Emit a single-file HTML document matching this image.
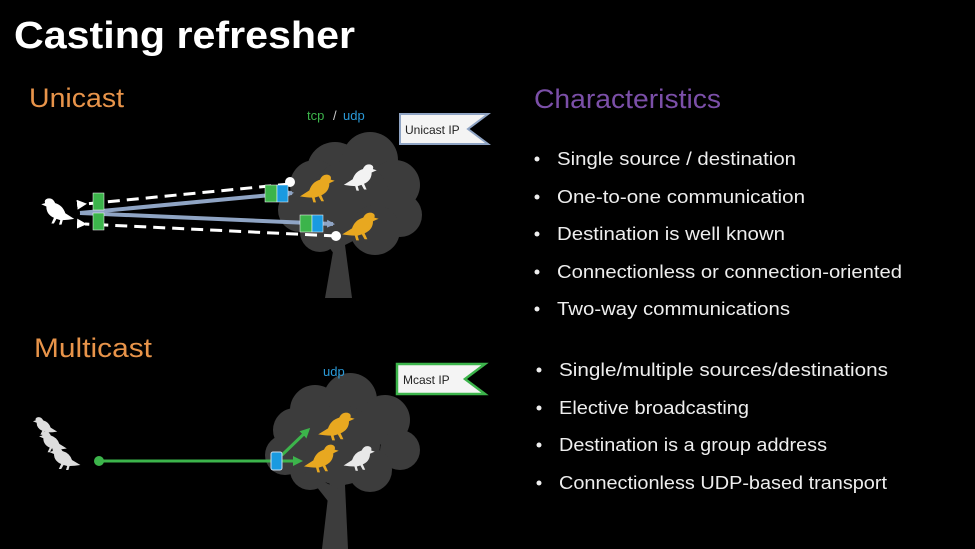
<!DOCTYPE html>
<html><head><meta charset="utf-8"><style>html,body{margin:0;padding:0;background:#000;}svg{display:block}</style></head>
<body>
<svg width="975" height="549" viewBox="0 0 975 549" xmlns="http://www.w3.org/2000/svg" font-family="Liberation Sans, sans-serif">
<defs>
<symbol id="bird" viewBox="0 0 30 30" preserveAspectRatio="none">
<path d="M3 22 L10 17 Q12 10 18 8 Q20 3 24 4 Q27 5 26 8 L29 9 L25 11 Q25 18 19 21 L21 26 L19 26 L17 22 L14 23 L15 27 L13 27 L12 23 Q8 23 3 22 Z"/>
</symbol>
<marker id="ab" markerWidth="8" markerHeight="8" refX="6" refY="4" orient="auto" markerUnits="userSpaceOnUse"><path d="M0 0 L8 4 L0 8 Z" fill="#8fa4c4"/></marker>
<marker id="aw" markerWidth="10" markerHeight="10" refX="2" refY="5" orient="auto" markerUnits="userSpaceOnUse"><path d="M10 0 L0 5 L10 10 Z" fill="#fff"/></marker>
<marker id="ag" markerWidth="10" markerHeight="10" refX="7" refY="5" orient="auto" markerUnits="userSpaceOnUse"><path d="M0 0 L10 5 L0 10 Z" fill="#3cb44b"/></marker>
</defs>
<rect width="975" height="549" fill="#000"/>
<text x="14" y="48" font-size="38" font-weight="bold" fill="#fff" textLength="341" lengthAdjust="spacingAndGlyphs">Casting refresher</text>
<text x="29" y="107" font-size="27" fill="#e8944a" textLength="95" lengthAdjust="spacingAndGlyphs">Unicast</text>
<text x="34" y="357" font-size="27" fill="#e8944a" textLength="118" lengthAdjust="spacingAndGlyphs">Multicast</text>
<text x="534" y="108" font-size="27" fill="#7b4fa8" textLength="187" lengthAdjust="spacingAndGlyphs">Characteristics</text>

<g font-size="18" fill="#eee">
<g><circle cx="537" cy="159" r="2.5"/><text x="557" y="165" textLength="239" lengthAdjust="spacingAndGlyphs">Single source / destination</text></g>
<g><circle cx="537" cy="197" r="2.5"/><text x="557" y="203" textLength="248" lengthAdjust="spacingAndGlyphs">One-to-one communication</text></g>
<g><circle cx="537" cy="234" r="2.5"/><text x="557" y="240" textLength="228" lengthAdjust="spacingAndGlyphs">Destination is well known</text></g>
<g><circle cx="537" cy="272" r="2.5"/><text x="557" y="278" textLength="345" lengthAdjust="spacingAndGlyphs">Connectionless or connection-oriented</text></g>
<g><circle cx="537" cy="309" r="2.5"/><text x="557" y="315" textLength="233" lengthAdjust="spacingAndGlyphs">Two-way communications</text></g>
<g><circle cx="539" cy="370" r="2.5"/><text x="559" y="376" textLength="329" lengthAdjust="spacingAndGlyphs">Single/multiple sources/destinations</text></g>
<g><circle cx="539" cy="408" r="2.5"/><text x="559" y="414" textLength="190" lengthAdjust="spacingAndGlyphs">Elective broadcasting</text></g>
<g><circle cx="539" cy="445" r="2.5"/><text x="559" y="451" textLength="268" lengthAdjust="spacingAndGlyphs">Destination is a group address</text></g>
<g><circle cx="539" cy="483" r="2.5"/><text x="559" y="489" textLength="328" lengthAdjust="spacingAndGlyphs">Connectionless UDP-based transport</text></g>
</g>

<!-- Unicast tree -->
<g fill="#3c3c3c">
<circle cx="335" cy="170" r="28"/><circle cx="370" cy="160" r="28"/><circle cx="395" cy="185" r="25"/>
<circle cx="400" cy="215" r="22"/><circle cx="300" cy="210" r="22"/><circle cx="315" cy="185" r="25"/>
<circle cx="350" cy="200" r="40"/><circle cx="375" cy="230" r="25"/><circle cx="320" cy="232" r="20"/>
<path d="M335 240 L325 298 L352 298 L345 245 L365 235 L350 230 Z"/>
<path d="M320 235 L340 262 L345 250 Z"/>
</g>
<text x="307" y="120" font-size="13" fill="#3cb44b">tcp</text>
<text x="333" y="120" font-size="13" fill="#ccc">/</text>
<text x="343" y="120" font-size="13" fill="#2a9ad8">udp</text>
<path d="M400 114 H488 L468 129 L488 144 H400 Z" fill="#f4f4f4" stroke="#8fa4c4" stroke-width="2"/>
<text x="405" y="134" font-size="12" fill="#222">Unicast IP</text>

<use href="#bird" x="296" y="170" width="40" height="36" fill="#e8a820"/>
<use href="#bird" x="340" y="160" width="38" height="34" fill="#f2f2f2"/>
<use href="#bird" x="338" y="208" width="42" height="36" fill="#e8a820"/>
<use href="#bird" x="40" y="194" width="38" height="34" fill="#fff" transform="translate(118 0) scale(-1 1)"/>

<line x1="80" y1="213" x2="292" y2="193" stroke="#8fa4c4" stroke-width="4" marker-end="url(#ab)"/>
<line x1="80" y1="213" x2="333" y2="224" stroke="#8fa4c4" stroke-width="4" marker-end="url(#ab)"/>
<line x1="290" y1="184" x2="85" y2="204" stroke="#fff" stroke-width="3" stroke-dasharray="12 7" marker-end="url(#aw)"/>
<line x1="336" y1="236" x2="85" y2="224" stroke="#fff" stroke-width="3" stroke-dasharray="12 7" marker-end="url(#aw)"/>
<circle cx="290" cy="182" r="5" fill="#fff"/><circle cx="336" cy="236" r="5" fill="#fff"/>
<rect x="93" y="193" width="11" height="17" fill="#3cb44b" stroke="#fff" stroke-width="0.5"/>
<rect x="93" y="213" width="11" height="17" fill="#3cb44b" stroke="#fff" stroke-width="0.5"/>
<rect x="265" y="185" width="12" height="17" fill="#3cb44b" stroke="#fff" stroke-width="0.5"/>
<rect x="277" y="185" width="11" height="17" fill="#1a9ae0" stroke="#fff" stroke-width="0.5"/>
<rect x="300" y="215" width="12" height="17" fill="#3cb44b" stroke="#fff" stroke-width="0.5"/>
<rect x="312" y="215" width="11" height="17" fill="#1a9ae0" stroke="#fff" stroke-width="0.5"/>

<!-- Multicast tree -->
<g fill="#3c3c3c">
<circle cx="315" cy="410" r="25"/><circle cx="350" cy="400" r="27"/><circle cx="385" cy="420" r="25"/>
<circle cx="400" cy="450" r="20"/><circle cx="285" cy="455" r="20"/><circle cx="295" cy="430" r="22"/>
<circle cx="340" cy="445" r="40"/><circle cx="370" cy="470" r="22"/><circle cx="310" cy="470" r="20"/>
<path d="M330 480 L322 549 L348 549 L345 485 L370 470 L350 470 Z"/>
<path d="M305 472 L335 510 L340 490 Z"/>
</g>
<text x="323" y="376" font-size="13" fill="#2a9ad8">udp</text>
<path d="M397 364 H485 L465 379 L485 394 H397 Z" fill="#f4f4f4" stroke="#3cb44b" stroke-width="2.5"/>
<text x="403" y="384" font-size="12" fill="#222">Mcast IP</text>

<use href="#bird" x="314" y="408" width="42" height="36" fill="#e8a820"/>
<use href="#bird" x="300" y="440" width="40" height="36" fill="#e8a820"/>
<use href="#bird" x="340" y="442" width="36" height="32" fill="#e8e8e8"/>
<use href="#bird" x="32" y="414" width="28" height="24" fill="#ddd" transform="translate(92 0) scale(-1 1)"/>
<use href="#bird" x="38" y="428" width="32" height="28" fill="#ddd" transform="translate(108 0) scale(-1 1)"/>
<use href="#bird" x="48" y="443" width="36" height="30" fill="#ddd" transform="translate(132 0) scale(-1 1)"/>

<line x1="99" y1="461" x2="272" y2="461" stroke="#3cb44b" stroke-width="3"/>
<circle cx="99" cy="461" r="5" fill="#3cb44b"/>
<line x1="282" y1="455" x2="308" y2="430" stroke="#3cb44b" stroke-width="3" marker-end="url(#ag)"/>
<line x1="282" y1="461" x2="300" y2="461" stroke="#3cb44b" stroke-width="3" marker-end="url(#ag)"/>
<rect x="271" y="452" width="11" height="18" rx="2" fill="#1a9ae0" stroke="#cde" stroke-width="1"/>
</svg>
</body></html>
